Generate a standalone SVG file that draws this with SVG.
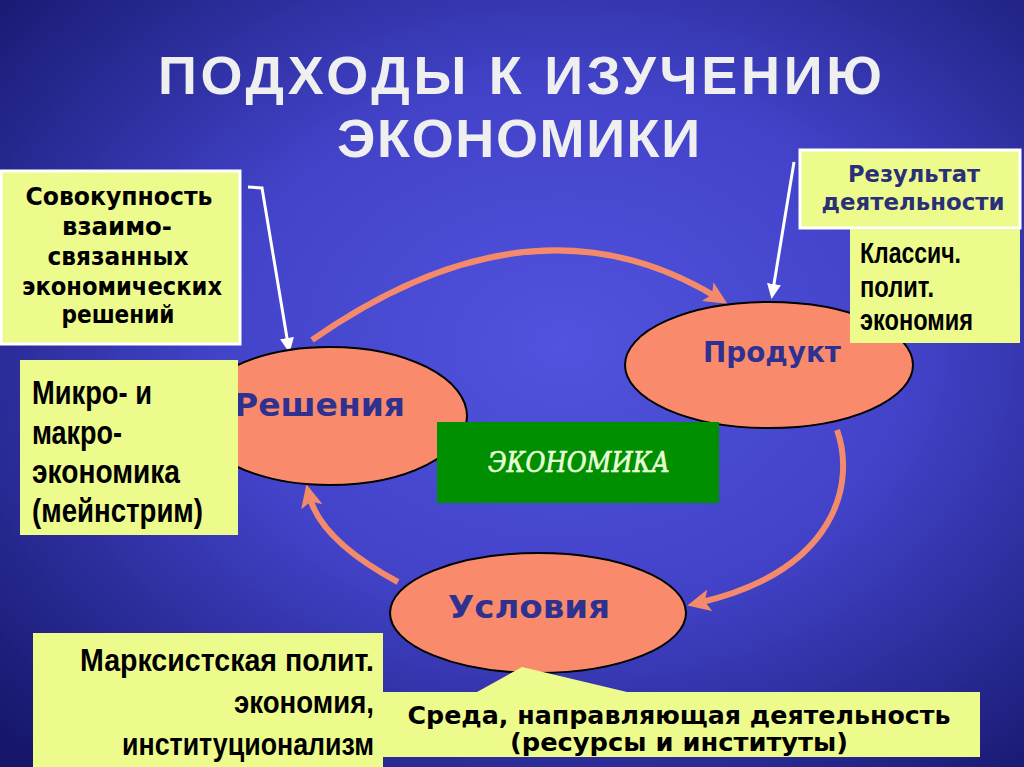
<svg xmlns="http://www.w3.org/2000/svg" width="1024" height="767" viewBox="0 0 1024 767">
<defs>
<radialGradient id="bg" cx="0.55" cy="0.45" r="0.75">
<stop offset="0" stop-color="#5253de"/>
<stop offset="0.45" stop-color="#4243c9"/>
<stop offset="1" stop-color="#15166a"/>
</radialGradient>
<marker id="ah" markerUnits="userSpaceOnUse" markerWidth="24" markerHeight="22" refX="12" refY="11" orient="auto" viewBox="0 0 24 22">
<path d="M0,0 L23,11 L0,22 L5,11 z" fill="#f48a6c"/>
</marker>
<marker id="wh" markerUnits="userSpaceOnUse" markerWidth="16" markerHeight="14" refX="6" refY="7" orient="auto" viewBox="0 0 16 14">
<path d="M0,0 L15,7 L0,14 z" fill="#ffffff"/>
</marker>
<style>
.box{fill:#edfb8d}
.wbox{fill:#edfb8d;stroke:#ffffff;stroke-width:3}
.ell{fill:#f98b6c;stroke:#000000;stroke-width:2}
.arc{fill:none;stroke:#f48a6c;stroke-width:6}
.warr{fill:none;stroke:#ffffff;stroke-width:3}
.tah{font-family:"DejaVu Sans",Verdana,sans-serif;font-weight:bold}
.nar{font-family:"Liberation Sans Narrow","Liberation Sans",Arial,sans-serif;font-weight:bold;fill:#000000}
.node{font-family:"DejaVu Sans",Verdana,sans-serif;font-weight:bold;fill:#2e3190}
.title{font-family:"Liberation Sans",Arial,sans-serif;font-weight:bold;fill:#efefef;font-size:54px}
</style>
</defs>
<rect x="0" y="0" width="1024" height="767" fill="url(#bg)"/>

<g id="title">
<text class="title" x="158" y="94" textLength="724" lengthAdjust="spacing">ПОДХОДЫ К ИЗУЧЕНИЮ</text>
<text class="title" x="337" y="157" textLength="363" lengthAdjust="spacing">ЭКОНОМИКИ</text>
</g>

<g id="connectors">
<path class="arc" d="M312,340 Q534,185 718,298" marker-end="url(#ah)"/>
<path class="arc" d="M837,430 C855,480 840,570 698,603" marker-end="url(#ah)"/>
<path class="arc" d="M398,582 Q320,540 309,495" marker-end="url(#ah)"/>
<path class="warr" d="M248,187 L262,188 L288,344" marker-end="url(#wh)"/>
<path class="warr" d="M794,162 L773,290" marker-end="url(#wh)"/>
</g>

<g id="node-resheniya">
<ellipse class="ell" cx="330" cy="416" rx="137" ry="69"/>
<text class="node" x="234" y="416" font-size="32" textLength="171" lengthAdjust="spacingAndGlyphs">Решения</text>
</g>

<g id="node-produkt">
<ellipse class="ell" cx="769" cy="365" rx="144" ry="63"/>
<text class="node" x="703" y="362" font-size="28" textLength="138" lengthAdjust="spacingAndGlyphs">Продукт</text>
</g>

<g id="node-usloviya">
<ellipse class="ell" cx="538" cy="613" rx="148" ry="60"/>
<text class="node" x="448" y="618" font-size="32" textLength="162" lengthAdjust="spacingAndGlyphs">Условия</text>
</g>

<g id="node-ekonomika">
<rect x="437" y="422" width="282" height="81" fill="#008f00"/>
<text x="488" y="472" font-family="'DejaVu Serif','Liberation Serif',serif" font-style="italic" font-size="27" fill="#e6ffd6" stroke="#e6ffd6" stroke-width="0.7" textLength="182" lengthAdjust="spacingAndGlyphs">ЭКОНОМИКА</text>
</g>

<g id="box-sovokupnost">
<rect class="wbox" x="1" y="171" width="239" height="173"/>
<g class="tah" font-size="24.5" fill="#000000" text-anchor="middle">
<text x="119" y="205" textLength="187" lengthAdjust="spacingAndGlyphs">Совокупность</text>
<text x="117" y="235" textLength="110" lengthAdjust="spacingAndGlyphs">взаимо-</text>
<text x="118" y="265" textLength="141" lengthAdjust="spacingAndGlyphs">связанных</text>
<text x="122" y="295" textLength="200" lengthAdjust="spacingAndGlyphs">экономических</text>
<text x="118" y="323" textLength="113" lengthAdjust="spacingAndGlyphs">решений</text>
</g>
</g>

<g id="box-rezultat">
<rect class="wbox" x="800" y="150" width="220" height="78"/>
<g class="tah" font-size="23" fill="#2a2f78" text-anchor="middle">
<text x="914" y="182" textLength="132" lengthAdjust="spacingAndGlyphs">Результат</text>
<text x="913" y="210" textLength="183" lengthAdjust="spacingAndGlyphs">деятельности</text>
</g>
</g>

<g id="box-klassich">
<rect class="box" x="850" y="229" width="170" height="114"/>
<g class="nar" font-size="29">
<text x="860" y="263" textLength="101" lengthAdjust="spacingAndGlyphs">Классич.</text>
<text x="860" y="297" textLength="74" lengthAdjust="spacingAndGlyphs">полит.</text>
<text x="860" y="330" textLength="113" lengthAdjust="spacingAndGlyphs">экономия</text>
</g>
</g>

<g id="box-mikro">
<rect class="box" x="20" y="360" width="218" height="175"/>
<g class="nar" font-size="34">
<text x="32" y="404" textLength="120" lengthAdjust="spacingAndGlyphs">Микро- и</text>
<text x="32" y="444" textLength="90" lengthAdjust="spacingAndGlyphs">макро-</text>
<text x="32" y="483" textLength="148" lengthAdjust="spacingAndGlyphs">экономика</text>
<text x="32" y="522" textLength="171" lengthAdjust="spacingAndGlyphs">(мейнстрим)</text>
</g>
</g>

<g id="box-marx">
<rect class="box" x="33" y="633" width="350" height="134"/>
<g class="nar" font-size="31" text-anchor="end">
<text x="374" y="671" textLength="294" lengthAdjust="spacingAndGlyphs">Марксистская полит.</text>
<text x="374" y="713" textLength="140" lengthAdjust="spacingAndGlyphs">экономия,</text>
<text x="374" y="755" textLength="252" lengthAdjust="spacingAndGlyphs">институционализм</text>
</g>
</g>

<g id="box-sreda">
<path class="box" d="M383,692 L477,692 L522,667 L627,692 L980,692 L980,757 L383,757 z"/>
<g class="tah" font-size="24" fill="#000000" text-anchor="middle">
<text x="679" y="724" textLength="543" lengthAdjust="spacingAndGlyphs">Среда, направляющая деятельность</text>
<text x="679" y="751" textLength="338" lengthAdjust="spacingAndGlyphs">(ресурсы и институты)</text>
</g>
</g>
</svg>
